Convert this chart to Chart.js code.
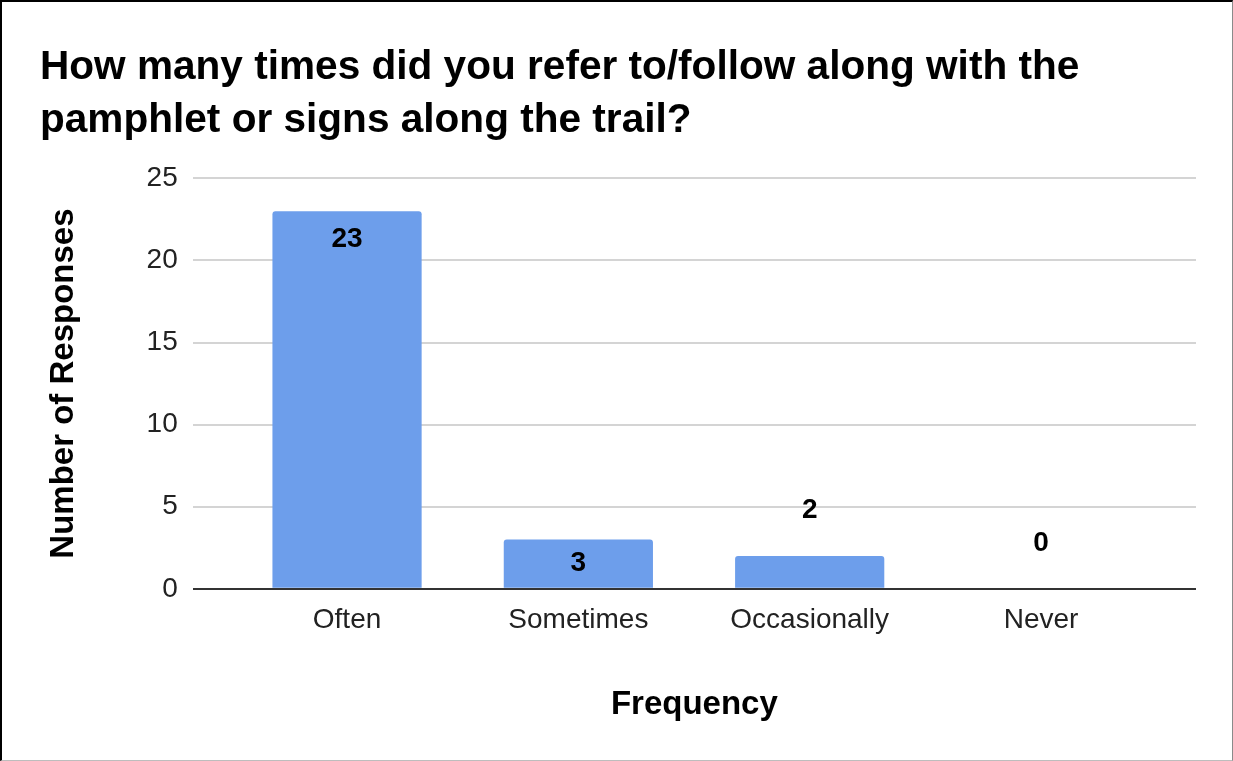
<!DOCTYPE html>
<html>
<head>
<meta charset="utf-8">
<script src="https://cdn.jsdelivr.net/npm/chart.js@4.4.1/dist/chart.umd.min.js"></script>
<style>
  html, body { margin: 0; padding: 0; background: #fff; }
  #frame {
    width: 1233px; height: 761px; box-sizing: border-box;
    border-left: 2px solid #000; border-top: 2px solid #000;
    border-right: 1px solid #8a8a8a; border-bottom: 1px solid #bdbdbd;
    position: relative; background: #fff;
  }
  #chart { display: block; }
</style>
</head>
<body>
<div id="frame"><canvas id="chart"></canvas></div>
<script>
// Survey results: how often visitors used the pamphlet or trail signs
const categories = ['Often', 'Sometimes', 'Occasionally', 'Never'];
const responses = [23, 3, 2, 0];
const yMin = 0;
const yMax = 25;
const yStep = 5;
const titleLines = ['How many times did you refer to/follow along with the', 'pamphlet or signs along the trail?'];

const FONT = "'Liberation Sans', Arial, sans-serif";
const BAR_COLOR = '#6d9eeb';

// Value labels: inside the bar when it is tall enough, otherwise above it
const valueLabels = {
  id: 'valueLabels',
  afterDatasetsDraw(chart) {
    const ctx = chart.ctx;
    const meta = chart.getDatasetMeta(0);
    ctx.save();
    ctx.font = 'bold 28px ' + FONT;
    ctx.fillStyle = '#000';
    ctx.textAlign = 'center';
    ctx.textBaseline = 'middle';
    meta.data.forEach((bar, i) => {
      const h = bar.base - bar.y;
      const y = h >= 40 ? bar.y + Math.min(28, h / 2) : bar.y - 46;
      ctx.fillText(String(responses[i]), bar.x, y);
    });
    ctx.restore();
  }
};

const frame = document.getElementById('frame');
const canvas = document.getElementById('chart');
canvas.width = frame.clientWidth;
canvas.height = frame.clientHeight;

new Chart(canvas, {
  type: 'bar',
  data: {
    datasets: [{
      data: categories.map((c, i) => ({ x: i, y: responses[i] })),
      backgroundColor: BAR_COLOR,
      borderWidth: 0,
      borderRadius: { topLeft: 3, topRight: 3, bottomLeft: 0, bottomRight: 0 },
      borderSkipped: 'start',
      categoryPercentage: 1,
      barPercentage: 0.645
    }]
  },
  options: {
    responsive: false,
    animation: false,
    devicePixelRatio: 1,
    layout: { padding: { top: 39, left: 38, right: 36, bottom: 35 } },
    plugins: {
      legend: { display: false },
      tooltip: { enabled: false },
      title: {
        display: true,
        text: titleLines,
        align: 'start',
        color: '#000',
        font: { family: FONT, size: 40.6, weight: 'bold', lineHeight: 1.31 },
        padding: { top: 0, bottom: 31 }
      }
    },
    scales: {
      x: {
        type: 'linear',
        min: -0.667,
        max: 3.67,
        offset: false,
        grid: { display: false, drawTicks: false },
        border: { display: false },
        ticks: {
          stepSize: 1,
          includeBounds: false,
          autoSkip: false,
          maxRotation: 0,
          padding: 15,
          color: '#222',
          font: { family: FONT, size: 28 },
          callback: (v) => (Number.isInteger(v) && categories[v] !== undefined) ? categories[v] : ''
        },
        title: {
          display: true,
          text: 'Frequency',
          color: '#000',
          font: { family: FONT, size: 33, weight: 'bold' },
          padding: { top: 33, bottom: 0 }
        }
      },
      y: {
        min: yMin,
        max: yMax,
        grid: {
          drawTicks: false,
          lineWidth: 2,
          color: (c) => (c.tick && c.tick.value === 0) ? '#333' : '#d4d4d4'
        },
        border: { display: false },
        ticks: {
          stepSize: yStep,
          padding: 15,
          color: '#222',
          font: { family: FONT, size: 28 }
        },
        title: {
          display: true,
          text: 'Number of Responses',
          color: '#000',
          font: { family: FONT, size: 33, weight: 'bold' },
          padding: { top: 4, bottom: 48 }
        }
      }
    }
  },
  plugins: [valueLabels]
});
</script>
</body>
</html>
